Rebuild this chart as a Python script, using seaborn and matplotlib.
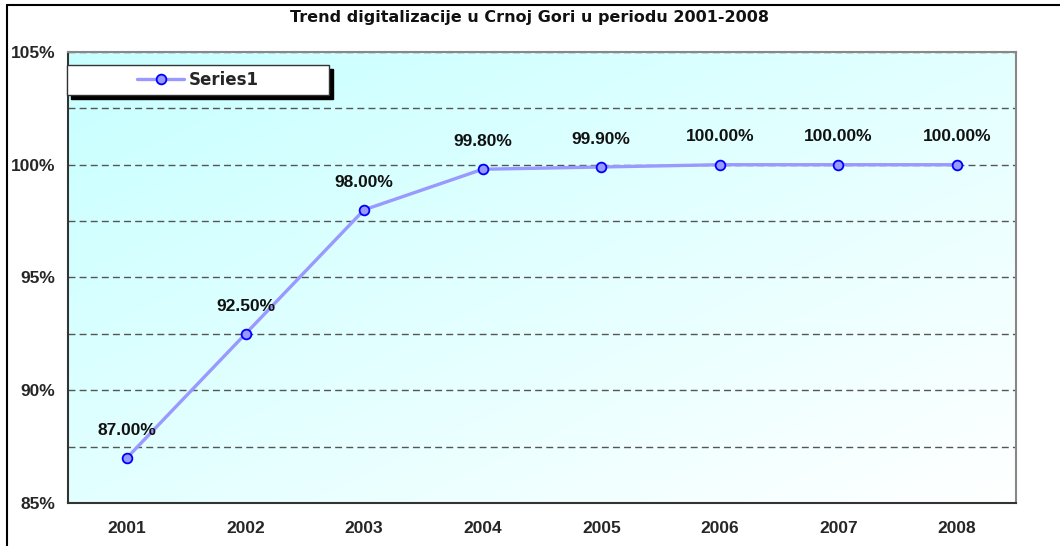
import numpy as np
import pandas as pd
import matplotlib
matplotlib.use("Agg")
import matplotlib.pyplot as plt
import seaborn as sns
from matplotlib.ticker import MultipleLocator, FuncFormatter, FixedLocator
from matplotlib.patches import Rectangle
from matplotlib.lines import Line2D

# ------------------------------------------------------------
# Data
# ------------------------------------------------------------
years = ["2001", "2002", "2003", "2004", "2005", "2006", "2007", "2008"]
values = [87.0, 92.5, 98.0, 99.8, 99.9, 100.0, 100.0, 100.0]
series_name = "Series1"
title = "Trend digitalizacije u Crnoj Gori u periodu 2001-2008"

df = pd.DataFrame({"year": years, "value": values})

sns.set_theme(style="white")
plt.rcParams["font.family"] = ["Liberation Sans", "DejaVu Sans"]
plt.rcParams["font.weight"] = "bold"

fig = plt.figure(figsize=(10.6, 5.46), dpi=100)
fig.patch.set_facecolor("white")
ax = fig.add_axes([0.0638, 0.0788, 0.8950, 0.8260])

# gradient background (cyan top-left -> white bottom-right)
gx, gy = np.meshgrid(np.linspace(0, 1, 200), np.linspace(0, 1, 200))
t = np.clip((gx + gy) / 2.0, 0, 1)
top = np.array([0.78, 1.0, 1.0])
bot = np.array([1.0, 1.0, 1.0])
img = top[None, None, :] * (1 - t[..., None]) + bot[None, None, :] * t[..., None]
ax.imshow(img, extent=[0, 1, 0, 1], transform=ax.transAxes, aspect="auto",
          zorder=0, interpolation="bilinear")

sns.lineplot(data=df, x="year", y="value", ax=ax, sort=False,
             color="#9999ff", linewidth=2.4, marker="o", markersize=7,
             markerfacecolor="#9999ff", markeredgecolor="#0000ff",
             markeredgewidth=1.3, zorder=3, legend=False)

for i, v in enumerate(values):
    ax.annotate(f"{v:.2f}%", (i, v), xytext=(0, 20), textcoords="offset points",
                ha="center", va="center", fontsize=12.5, fontweight="bold",
                color="#111111", zorder=4)

ax.set_xlim(-0.5, len(years) - 0.5)
ax.set_ylim(85, 105)
ax.set_xlabel("")
ax.set_ylabel("")

# y axis
ax.yaxis.set_major_locator(MultipleLocator(5))
ax.yaxis.set_minor_locator(MultipleLocator(2.5))
ax.yaxis.set_major_formatter(FuncFormatter(lambda v, p: f"{v:.0f}%"))
ax.tick_params(axis="y", which="major", direction="out", length=5, width=1,
               color="#333333", labelsize=12.5, pad=4)
ax.tick_params(axis="y", which="minor", length=0)
ax.set_axisbelow(True)
ax.yaxis.grid(True, which="both", linestyle=(0, (5, 3)), color="#555555",
              linewidth=1.0)

# x axis: labels at centres, ticks at boundaries
ax.xaxis.set_minor_locator(FixedLocator(np.arange(-0.5, len(years), 1.0)))
ax.tick_params(axis="x", which="major", length=0, labelsize=12.5, pad=13)
ax.tick_params(axis="x", which="minor", direction="out", length=5, width=1,
               color="#333333")
for lbl in ax.get_xticklabels() + ax.get_yticklabels():
    lbl.set_fontweight("bold")

for side in ["left", "bottom"]:
    ax.spines[side].set_color("#333333")
    ax.spines[side].set_linewidth(1.5)
for side in ["top", "right"]:
    ax.spines[side].set_color("#888888")
    ax.spines[side].set_linewidth(1.5)
for s in ax.spines.values():
    s.set_zorder(5)

fig.text(0.5, 0.968, title, ha="center", va="center", fontsize=11.5,
         fontweight="bold", color="#111111", family=["DejaVu Sans"])

# legend box with solid black shadow
lx, ly, lw, lh = 67 / 1060, 1 - 95 / 546, 262 / 1060, 30 / 546
fig.patches.append(Rectangle((lx + 4 / 1060, ly - 4 / 546), lw, lh,
                             transform=fig.transFigure, facecolor="black",
                             edgecolor="black", zorder=6))
fig.patches.append(Rectangle((lx, ly), lw, lh, transform=fig.transFigure,
                             facecolor="white", edgecolor="#333333",
                             linewidth=1, zorder=7))
handle = Line2D([], [], color="#9999ff", linewidth=2.4, marker="o",
                markersize=7, markerfacecolor="#9999ff",
                markeredgecolor="#0000ff", markeredgewidth=1.3)
leg = fig.legend([handle], [series_name], loc="center",
                 bbox_to_anchor=(lx + lw / 2, ly + lh / 2), frameon=False,
                 handlelength=2.8, handletextpad=0.3,
                 prop={"size": 12, "weight": "bold", "family": "DejaVu Sans"})
leg.set_zorder(8)

# outer frame (top and left edges visible)
fig.lines.append(Line2D([7 / 1060, 1.0], [1 - 5 / 546, 1 - 5 / 546],
                        transform=fig.transFigure, color="black", linewidth=1.5))
fig.lines.append(Line2D([7 / 1060, 7 / 1060], [0.0, 1 - 5 / 546],
                        transform=fig.transFigure, color="black", linewidth=1.5))

fig.savefig("out.png", dpi=100)
